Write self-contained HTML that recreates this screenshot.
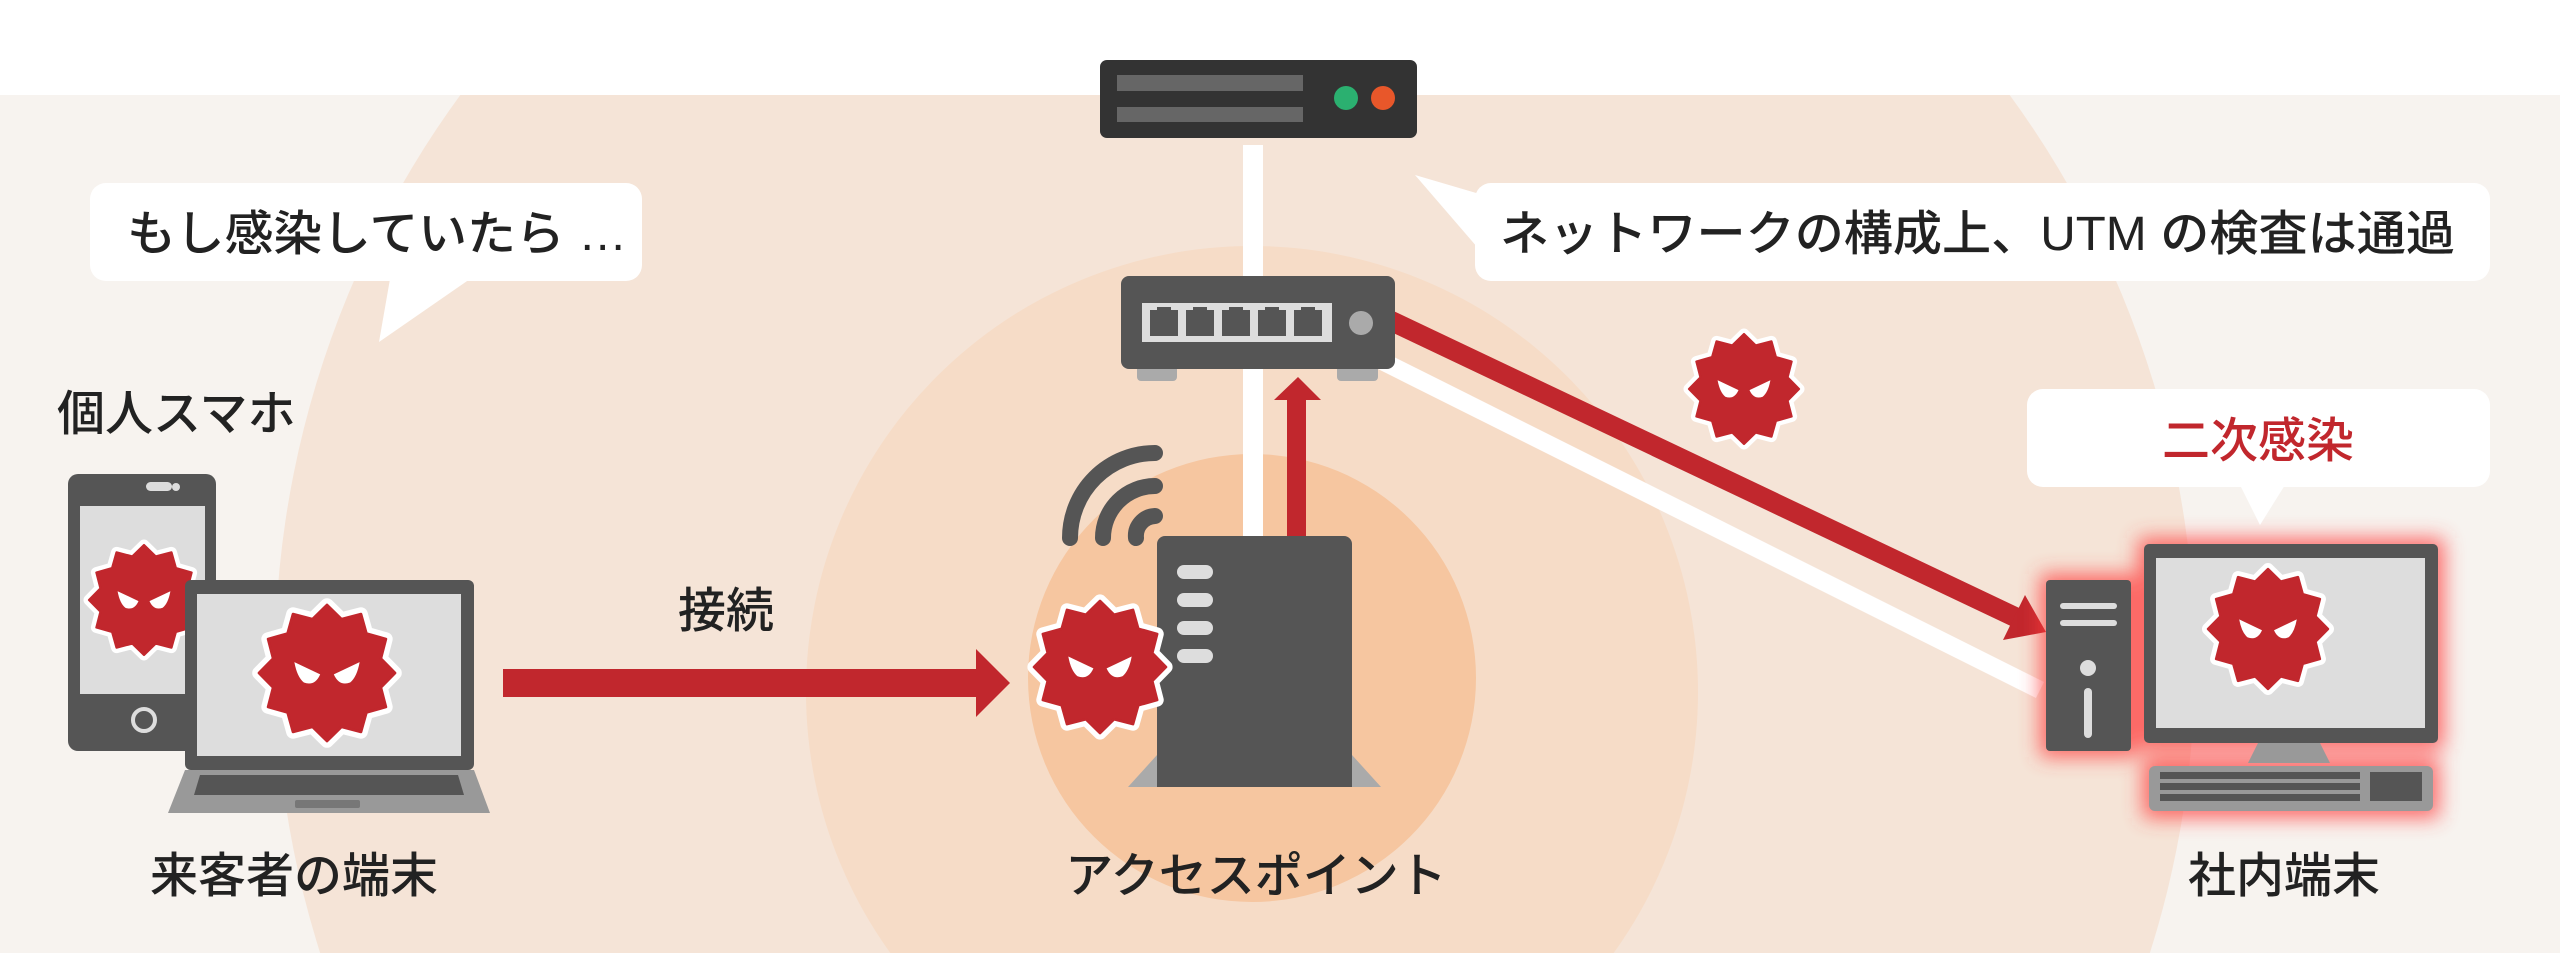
<!DOCTYPE html>
<html><head><meta charset="utf-8">
<style>
html,body{margin:0;padding:0;background:#fff;width:2560px;height:953px;overflow:hidden;}
svg{display:block;}
text{font-family:"Liberation Sans","Noto Sans CJK JP",sans-serif;font-weight:500;}
</style></head><body>
<svg width="2560" height="953" viewBox="0 0 2560 953" xmlns="http://www.w3.org/2000/svg">
<defs>
<clipPath id="band"><rect x="0" y="95" width="2560" height="858"/></clipPath>
<g id="virus">
<polygon points="0,-50 10.6,-39.6 25,-43.3 29,-29 43.3,-25 39.6,-10.6 50,0 39.6,10.6 43.3,25 29,29 25,43.3 10.6,39.6 0,50 -10.6,39.6 -25,43.3 -29,29 -43.3,25 -39.6,10.6 -50,0 -39.6,-10.6 -43.3,-25 -29,-29 -25,-43.3 -10.6,-39.6" fill="#fff" stroke="#fff" stroke-width="10" stroke-linejoin="round"/>
<polygon points="0,-50 10.6,-39.6 25,-43.3 29,-29 43.3,-25 39.6,-10.6 50,0 39.6,10.6 43.3,25 29,29 25,43.3 10.6,39.6 0,50 -10.6,39.6 -25,43.3 -29,29 -43.3,25 -39.6,10.6 -50,0 -39.6,-10.6 -43.3,-25 -29,-29 -25,-43.3 -10.6,-39.6" fill="#c1272d" stroke="#c1272d" stroke-width="2" stroke-linejoin="round"/>
<path d="M-24,-8 L-5,1 Q-9,10 -17,7 Q-22,3 -24,-8Z" fill="#fff"/>
<path d="M24,-8 L5,1 Q9,10 17,7 Q22,3 24,-8Z" fill="#fff"/>
</g>
<filter id="glow" x="-30%" y="-30%" width="160%" height="160%"><feGaussianBlur stdDeviation="10"/></filter>
</defs>

<rect x="0" y="95" width="2560" height="858" fill="#f7f3ef"/>
<g clip-path="url(#band)">
<circle cx="1235" cy="662" r="960" fill="#f5e4d7"/>
<circle cx="1252" cy="692" r="446" fill="#f6dcc7"/>
<circle cx="1252" cy="678" r="224" fill="#f6c6a0"/>
</g>

<!-- server -->
<rect x="1100" y="60" width="317" height="78" rx="7" fill="#333"/>
<rect x="1117" y="75" width="186" height="16" fill="#666"/>
<rect x="1117" y="107" width="186" height="15" fill="#666"/>
<circle cx="1346" cy="98" r="12" fill="#2bb070"/>
<circle cx="1383" cy="98" r="12" fill="#e8572a"/>

<rect x="1243" y="145" width="20" height="392" fill="#fff"/>

<line x1="1380" y1="360" x2="2040" y2="690" stroke="#fff" stroke-width="18"/>
<line x1="1385" y1="318" x2="2015" y2="617" stroke="#c1272d" stroke-width="20"/>
<polygon points="2046,632 2003,640 2025,595" fill="#c1272d"/>

<!-- switch -->
<rect x="1137" y="362" width="40" height="19" rx="4" fill="#aaa"/>
<rect x="1337" y="362" width="41" height="19" rx="4" fill="#aaa"/>
<rect x="1121" y="276" width="274" height="93" rx="8" fill="#555"/>
<rect x="1142" y="303" width="190" height="39" fill="#ddd"/>
<g fill="#555">
<path d="M1150,310h28v26h-28z M1157,307h14v4h-14z"/>
<path d="M1186,310h28v26h-28z M1193,307h14v4h-14z"/>
<path d="M1222,310h28v26h-28z M1229,307h14v4h-14z"/>
<path d="M1258,310h28v26h-28z M1265,307h14v4h-14z"/>
<path d="M1294,310h28v26h-28z M1301,307h14v4h-14z"/>
</g>
<circle cx="1361" cy="323" r="12" fill="#aaa"/>

<rect x="1287" y="398" width="19" height="140" fill="#c1272d"/>
<polygon points="1298,377 1321,400 1274,400" fill="#c1272d"/>

<g fill="none" stroke="#555" stroke-width="16" stroke-linecap="round">
<path d="M1070,538 A85,85 0 0 1 1155,453"/>
<path d="M1103,538 A52,52 0 0 1 1155,486"/>
<path d="M1136,538 A20,20 0 0 1 1155,516"/>
</g>

<!-- AP -->
<polygon points="1128,787 1381,787 1352,755 1157,755" fill="#aaa"/>
<path d="M1157,787 V544 a8,8 0 0 1 8,-8 H1344 a8,8 0 0 1 8,8 V787Z" fill="#555"/>
<g fill="#ddd">
<rect x="1177" y="565" width="36" height="14" rx="7"/>
<rect x="1177" y="593" width="36" height="14" rx="7"/>
<rect x="1177" y="621" width="36" height="14" rx="7"/>
<rect x="1177" y="649" width="36" height="14" rx="7"/>
</g>
<use href="#virus" transform="translate(1100,667) scale(1.32)"/>

<rect x="503" y="669" width="475" height="28" fill="#c1272d"/>
<polygon points="976,649 1010,683 976,717" fill="#c1272d"/>

<!-- phone -->
<rect x="68" y="474" width="148" height="277" rx="10" fill="#555"/>
<rect x="80" y="506" width="125" height="188" fill="#ddd"/>
<rect x="146" y="482" width="26" height="9" rx="4.5" fill="#ddd"/>
<circle cx="176" cy="487" r="4" fill="#ddd"/>
<circle cx="144" cy="720" r="11" fill="none" stroke="#ddd" stroke-width="4"/>
<use href="#virus" transform="translate(144,600) scale(1.1)"/>

<!-- laptop -->
<rect x="185" y="580" width="289" height="190" rx="6" fill="#555"/>
<rect x="197" y="594" width="264" height="162" fill="#ddd"/>
<polygon points="185,770 474,770 490,813 168,813" fill="#999"/>
<polygon points="200,775 458,775 464,795 194,795" fill="#555"/>
<rect x="295" y="800" width="65" height="8" rx="2" fill="#777"/>
<use href="#virus" transform="translate(327,673) scale(1.36)"/>

<use href="#virus" transform="translate(1744,389) scale(1.1)"/>

<g filter="url(#glow)" fill="#ff3b3b" opacity="0.75">
<rect x="2040" y="574" width="97" height="183"/>
<rect x="2138" y="538" width="306" height="211"/>
<rect x="2143" y="758" width="296" height="60"/>
</g>
<rect x="2046" y="580" width="85" height="171" rx="4" fill="#555"/>
<rect x="2060" y="603" width="57" height="6" rx="3" fill="#ddd"/>
<rect x="2060" y="620" width="57" height="6" rx="3" fill="#ddd"/>
<circle cx="2088" cy="668" r="8" fill="#ddd"/>
<rect x="2084" y="688" width="8" height="50" rx="4" fill="#ddd"/>
<rect x="2144" y="544" width="294" height="199" rx="5" fill="#555"/>
<rect x="2156" y="558" width="269" height="170" fill="#ddd"/>
<polygon points="2258,743 2320,743 2330,763 2248,763" fill="#999"/>
<rect x="2149" y="766" width="284" height="45" rx="6" fill="#999"/>
<g fill="#555">
<rect x="2160" y="772" width="200" height="7"/>
<rect x="2160" y="783" width="200" height="7"/>
<rect x="2160" y="794" width="200" height="7"/>
<rect x="2370" y="772" width="52" height="29"/>
</g>
<use href="#virus" transform="translate(2268,629) scale(1.2)"/>

<g fill="#fff">
<rect x="90" y="183" width="552" height="98" rx="16"/>
<polygon points="390,279 470,279 379,342"/>
<rect x="1475" y="183" width="1015" height="98" rx="16"/>
<polygon points="1415,175 1500,200 1490,262"/>
<rect x="2027" y="389" width="463" height="98" rx="16"/>
<polygon points="2240,485 2285,485 2260,525"/>
</g>

<g font-size="48" fill="#222">
<text x="127" y="250" textLength="500" lengthAdjust="spacingAndGlyphs">もし感染していたら …</text>
<text x="1500" y="250" textLength="955" lengthAdjust="spacingAndGlyphs">ネットワークの構成上、UTM の検査は通過</text>
<text x="57" y="430">個人スマホ</text>
<text x="678" y="627">接続</text>
<text x="150" y="892">来客者の端末</text>
<text x="1256" y="892" text-anchor="middle">アクセスポイント</text>
<text x="2188" y="892">社内端末</text>
</g>
<text x="2258" y="457" font-size="48" fill="#c1272d" text-anchor="middle">二次感染</text>
</svg>
</body></html>
